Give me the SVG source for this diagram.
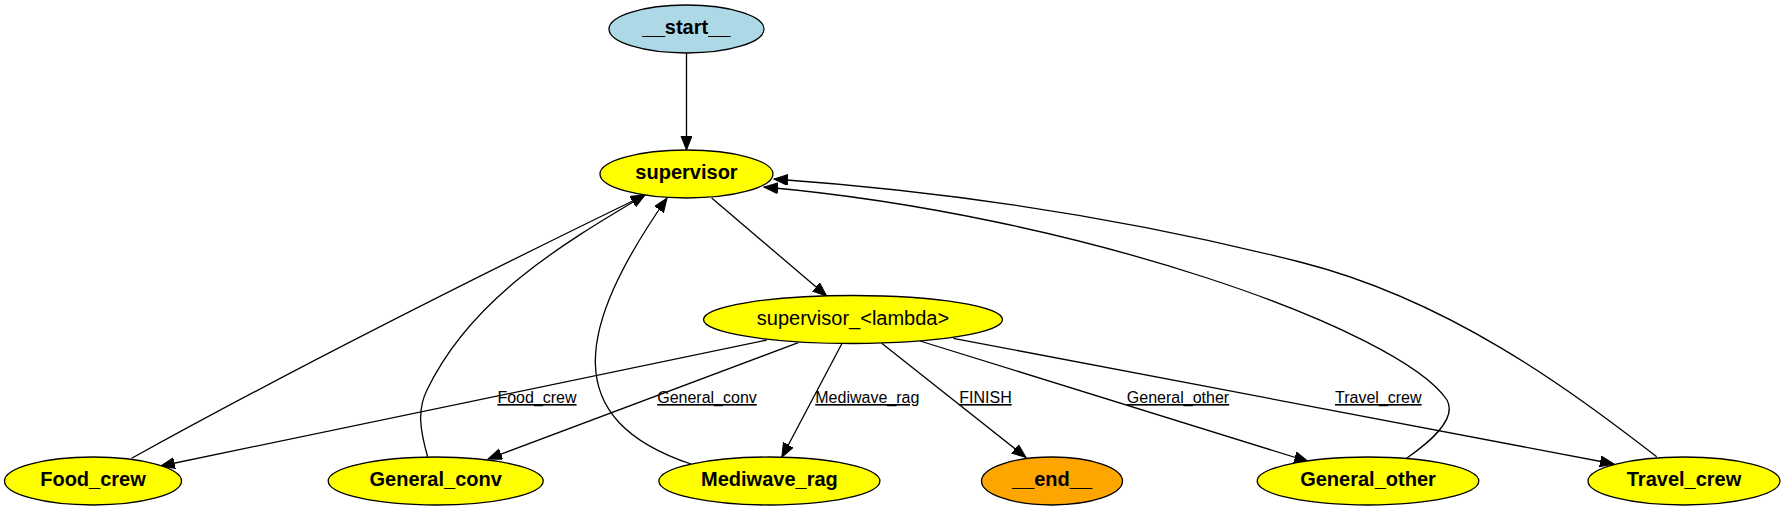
<svg xmlns="http://www.w3.org/2000/svg" width="1785" height="511" viewBox="0 0 1785 511">
<style>
.node ellipse{stroke:#000;stroke-width:1.3}
.yellow{fill:#ffff00}
.nl{font-family:"Liberation Sans",Arial,sans-serif;font-size:20px;font-weight:bold;fill:#000;text-anchor:middle}
.nr{font-family:"Liberation Sans",Arial,sans-serif;font-size:20px;fill:#000;text-anchor:middle}
.edge{fill:none;stroke:#000;stroke-width:1.3;marker-end:url(#arr)}
.el{font-family:"Liberation Sans",Arial,sans-serif;font-size:16px;fill:#000;text-anchor:middle;text-decoration:underline}
</style>
<defs>
<marker id="arr" markerUnits="userSpaceOnUse" markerWidth="16" markerHeight="12" refX="14" refY="5.5" orient="auto">
<path d="M0,0 L14,5.5 L0,11 z" fill="#000" stroke="#000" stroke-width="1"/>
</marker>
</defs>
<rect width="1785" height="511" fill="#fff"/>
<g id="connectors">
<path class="edge" d="M686.5,53 L686.5,150"/>
<path class="edge" d="M711.7,198 L826.7,296"/>
<path class="edge" d="M766.7,340 L160.7,466"/>
<path class="edge" d="M798.3,342.7 L488,459"/>
<path class="edge" d="M841.7,344 L781.8,457.3"/>
<path class="edge" d="M881.7,343.3 L1026,457.5"/>
<path class="edge" d="M920,341 L1308.3,461.5"/>
<path class="edge" d="M953.3,338.3 L1614,464"/>
<path class="edge" d="M131.7,458.3 C300,365 470,280 645,195"/>
<path class="edge" d="M427.6,456.7 C420,430 417,410 427,390 C470,300 560,245 645,195"/>
<path class="edge" d="M691,464 C560,420 575,330 667,198"/>
<path class="edge" d="M1407,458 C1427,444 1458,420 1447,400 C1400,330 1080,215 764,187"/>
<path class="edge" d="M1656.7,456.7 C1570,390 1450,300 1300,262 C1180,231.6 1000,195 774,179"/>
<text class="el" x="537" y="403">Food_crew</text>
<text class="el" x="707" y="403">General_conv</text>
<text class="el" x="867.3" y="403">Mediwave_rag</text>
<text class="el" x="985.5" y="403">FINISH</text>
<text class="el" x="1178" y="403">General_other</text>
<text class="el" x="1378.3" y="403">Travel_crew</text>
</g>
<g id="start" class="node">
<ellipse cx="686.5" cy="29" rx="77.5" ry="24" fill="#add8e6"/>
<text class="nl" x="686.5" y="34">__start__</text>
</g>
<g id="supervisor" class="node">
<ellipse class="yellow" cx="686.5" cy="174" rx="86.5" ry="24"/>
<text class="nl" x="686.5" y="179">supervisor</text>
</g>
<g id="supervisor_lambda" class="node">
<ellipse class="yellow" cx="853" cy="319.5" rx="149.5" ry="24"/>
<text class="nr" x="853" y="325">supervisor_&lt;lambda&gt;</text>
</g>
<g id="Food_crew" class="node">
<ellipse class="yellow" cx="93" cy="481" rx="88.5" ry="24"/>
<text class="nl" x="93" y="486">Food_crew</text>
</g>
<g id="General_conv" class="node">
<ellipse class="yellow" cx="435.7" cy="481" rx="107.5" ry="24"/>
<text class="nl" x="435.7" y="486">General_conv</text>
</g>
<g id="Mediwave_rag" class="node">
<ellipse class="yellow" cx="769.4" cy="481" rx="110.5" ry="24"/>
<text class="nl" x="769.4" y="486">Mediwave_rag</text>
</g>
<g id="end" class="node">
<ellipse cx="1052" cy="481" rx="70.5" ry="24" fill="#ffa500"/>
<text class="nl" x="1052" y="486">__end__</text>
</g>
<g id="General_other" class="node">
<ellipse class="yellow" cx="1368" cy="481" rx="110.8" ry="24"/>
<text class="nl" x="1368" y="486">General_other</text>
</g>
<g id="Travel_crew" class="node">
<ellipse class="yellow" cx="1684" cy="481" rx="96" ry="24"/>
<text class="nl" x="1684" y="486">Travel_crew</text>
</g>
</svg>
